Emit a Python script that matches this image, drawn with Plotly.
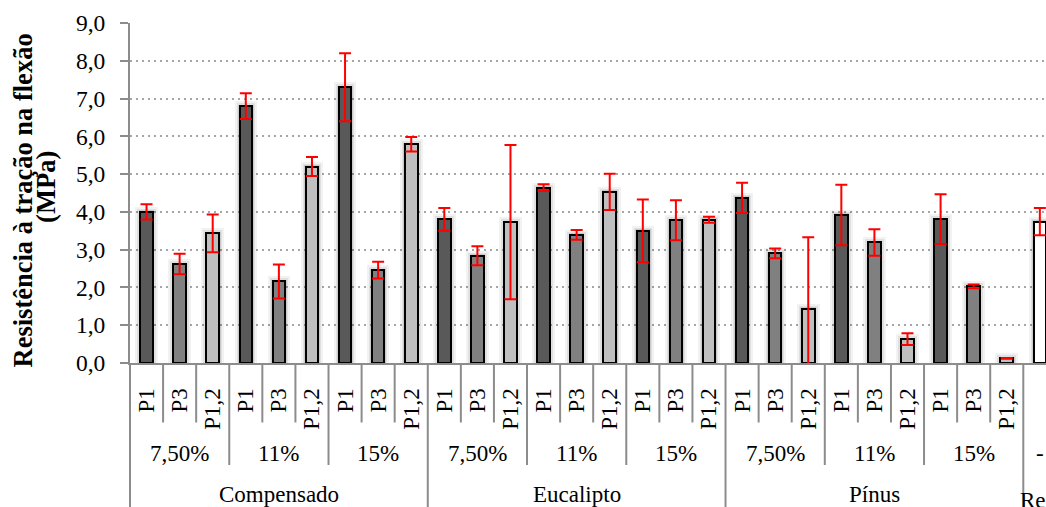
import plotly.graph_objects as go

# Grouping levels of the category axis
materiais = ["Compensado", "Eucalipto", "Pínus", "Referência"]
teores = ["7,50%", "11%", "15%"]
posicoes = ["P1", "P3", "P1,2"]

# Mean flexural tensile strength (MPa) and standard deviation, per material
compensado = [4.00, 2.62, 3.43, 6.80, 2.16, 5.20, 7.30, 2.46, 5.79]
compensado_dp = [0.20, 0.27, 0.50, 0.34, 0.45, 0.25, 0.90, 0.22, 0.19]
eucalipto = [3.80, 2.84, 3.73, 4.64, 3.39, 4.53, 3.50, 3.78, 3.79]
eucalipto_dp = [0.30, 0.25, 2.04, 0.09, 0.13, 0.48, 0.83, 0.53, 0.08]
pinus = [4.37, 2.90, 1.44, 3.92, 3.19, 0.63, 3.81, 2.03, 0.12]
pinus_dp = [0.40, 0.13, 1.89, 0.80, 0.35, 0.155, 0.66, 0.05, 0.01]
referencia = [3.74]
referencia_dp = [0.36]

y_ticks = [0, 1, 2, 3, 4, 5, 6, 7, 8, 9]
y_labels = ["0,0", "1,0", "2,0", "3,0", "4,0", "5,0", "6,0", "7,0", "8,0", "9,0"]

FONT = "Liberation Serif"
cores_pos = {"P1": "#595959", "P3": "#808080", "P1,2": "#BFBFBF"}
COR_REF = "#FFFFFF"
COR_LINHA = "#8C8C8C"
LARGURA = 0.38

valores = compensado + eucalipto + pinus + referencia
desvios = compensado_dp + eucalipto_dp + pinus_dp + referencia_dp
n_trat = len(materiais[:3]) * len(teores) * len(posicoes)
x = list(range(len(valores)))
rotulos = [posicoes[i % 3] for i in range(n_trat)] + [""]
cores = [cores_pos[posicoes[i % 3]] for i in range(n_trat)] + [COR_REF]

fig = go.Figure()

# Soft drop shadow around the columns (stacked translucent halos)
for px_extra, alpha in [(5, 0.05), (3, 0.07), (1.5, 0.09)]:
    fig.add_trace(go.Bar(
        x=x, y=[v + px_extra / 37.78 for v in valores],
        width=LARGURA + 2 * px_extra / 33.085,
        marker=dict(color=f"rgba(0,0,0,{alpha})", line=dict(width=0)),
        showlegend=False, hoverinfo="skip",
    ))

fig.add_trace(go.Bar(
    x=x, y=valores, width=LARGURA,
    marker=dict(color=cores, line=dict(color="#000000", width=2)),
    error_y=dict(type="data", array=desvios, visible=True,
                 color="#FF0000", thickness=2, width=6),
    showlegend=False, hoverinfo="y",
))

# Separator lines of the three-level category axis
shapes = []
for i in range(len(valores) - 1):
    b = i + 0.5
    if (i + 1) % 9 == 0:
        y_end = -0.46
    elif (i + 1) % 3 == 0:
        y_end = -0.30
    else:
        y_end = -0.175
    shapes.append(dict(type="line", xref="x", yref="paper", x0=b, x1=b,
                       y0=0, y1=y_end, line=dict(color=COR_LINHA, width=2)))
shapes.append(dict(type="line", xref="paper", yref="paper", x0=0, x1=0,
                   y0=0, y1=-0.46, line=dict(color=COR_LINHA, width=2)))

annotations = []
for g in range(3):
    for t, teor in enumerate(teores):
        annotations.append(dict(x=g * 9 + t * 3 + 1, y=-0.266, xref="x", yref="paper",
                                text=teor, showarrow=False, yanchor="middle",
                                font=dict(family=FONT, size=23, color="#000")))
    annotations.append(dict(x=g * 9 + 4, y=-0.386, xref="x", yref="paper",
                            text=materiais[g], showarrow=False, yanchor="middle",
                            font=dict(family=FONT, size=23, color="#000")))
annotations.append(dict(x=n_trat, y=-0.266, xref="x", yref="paper", text="-",
                        showarrow=False, yanchor="middle",
                        font=dict(family=FONT, size=23, color="#000")))
annotations.append(dict(x=n_trat - 0.5, y=-0.405, xref="x", yref="paper",
                        text=materiais[3], showarrow=False, xanchor="left", xshift=-5,
                        yanchor="middle", font=dict(family=FONT, size=23, color="#000")))

# Two-line axis title
annotations.append(dict(x=-0.1168, y=0.478, xref="paper", yref="paper",
                        text="<b>Resistência à tração na flexão</b>", textangle=-90,
                        showarrow=False, xanchor="center", yanchor="middle",
                        font=dict(family=FONT, size=26.5, color="#000")))
annotations.append(dict(x=-0.0917, y=0.518, xref="paper", yref="paper",
                        text="<b>(MPa)</b>", textangle=-90,
                        showarrow=False, xanchor="center", yanchor="middle",
                        font=dict(family=FONT, size=26.5, color="#000")))

fig.update_layout(
    width=1046, height=507,
    margin=dict(l=130, r=0, t=23, b=144),
    paper_bgcolor="#FFFFFF", plot_bgcolor="#FFFFFF",
    barmode="overlay", bargap=0,
    shapes=shapes, annotations=annotations,
    xaxis=dict(
        range=[-0.5, -0.5 + 916 / 33.085],
        tickmode="array", tickvals=x, ticktext=rotulos, tickangle=-90,
        tickfont=dict(family=FONT, size=23, color="#000"),
        showgrid=False, zeroline=False, showline=True,
        linecolor=COR_LINHA, linewidth=2, ticks="", ticklabelstandoff=14,
    ),
    yaxis=dict(
        range=[0, 9], tickmode="array", tickvals=y_ticks, ticktext=y_labels,
        tickfont=dict(family=FONT, size=23.5, color="#000"),
        showgrid=True, gridcolor="#A6A6A6", gridwidth=1.5, griddash="2px,4px",
        zeroline=False, showline=True, linecolor=COR_LINHA, linewidth=2,
        ticks="outside", ticklen=8, tickwidth=2, tickcolor=COR_LINHA,
        ticklabelstandoff=10,
    ),
)

fig.write_html("out.html")
